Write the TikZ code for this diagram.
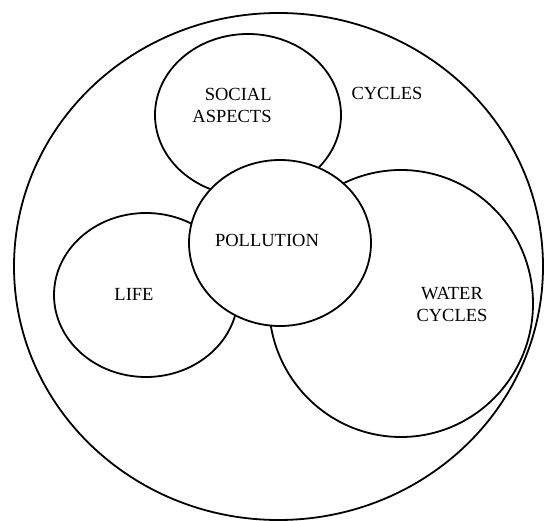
\documentclass[tikz,border=0pt]{standalone}
\usepackage{fontspec}
\setmainfont{Liberation Serif}
\begin{document}
\begin{tikzpicture}[x=1pt,y=-1pt,line width=1.8pt,
      ring/.style={draw,fill=white},
      word/.style={inner sep=0pt,align=center,font=\fontsize{18.5}{22}\selectfont}]
      \useasboundingbox (0,0) rectangle (544,521);
      \draw[ring] (278.5,266.5) ellipse (264.5pt and 253.5pt);
      \foreach \x/\y/\a/\b in {248/115/93/81,146/295/92/82,401/303.5/132/133.5} {
        \draw[ring] (\x,\y) ellipse (\a pt and \b pt);
      }
      \draw[ring] (280,243) ellipse (91pt and 83pt);
      \node[word,align=right] (social) at (232,105) {SOCIAL\\ASPECTS};
      \node[word] (cycles) at (387,93) {CYCLES};
      \node[word] (pollution) at (267,240) {POLLUTION};
      \node[word] (life) at (134,294) {LIFE};
      \node[word] (water) at (452,304) {WATER\\CYCLES};
    \end{tikzpicture}
\end{document}
